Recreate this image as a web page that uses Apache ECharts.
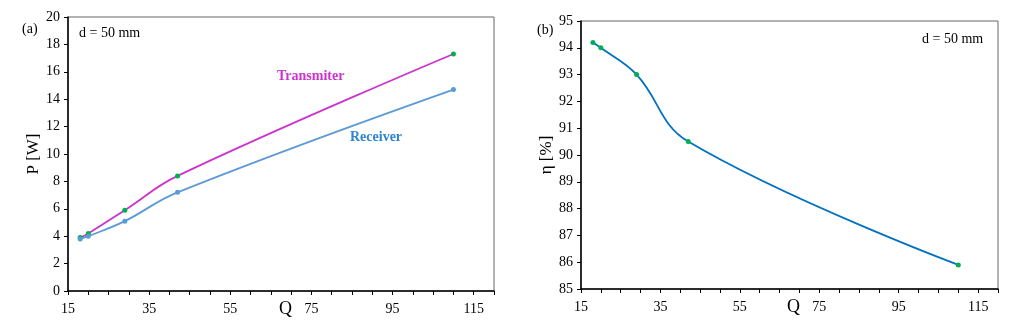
<!DOCTYPE html>
<html><head><meta charset="utf-8">
<script src="https://cdn.jsdelivr.net/npm/echarts@6/dist/echarts.min.js"></script>
<style>html,body{margin:0;padding:0;background:#fff}#c{width:1015px;height:331px}</style>
</head><body><div id="c"></div>
<script>
const qValues = [18, 20, 29, 42, 110];
const transmitter = [3.9, 4.2, 5.9, 8.4, 17.3];
const receiver = [3.8, 4.0, 5.1, 7.2, 14.7];
const efficiency = [94.2, 94.0, 93.0, 90.5, 85.9];
const xLabelTicks = [15, 35, 55, 75, 95, 115];

const FONT = '"Liberation Serif", "Times New Roman", serif';
const chart = echarts.init(document.getElementById('c'));
const pairs = (ys) => qValues.map((q, i) => [q, ys[i]]);

function xAxis(gi) {
  return {
    type: 'value', gridIndex: gi, min: 15, max: 120, interval: 5,
    axisLine: {lineStyle: {color: '#000', width: 1.5}},
    axisTick: {show: true, length: 4, lineStyle: {color: '#000'}},
    axisLabel: {fontFamily: FONT, fontSize: 14, color: '#000', margin: 11,
      formatter: v => xLabelTicks.includes(v) ? String(v) : ''},
    splitLine: {show: false}
  };
}
function yAxis(gi, min, max, interval, name, gap) {
  return {
    type: 'value', gridIndex: gi, min, max, interval,
    name, nameLocation: 'middle', nameGap: gap,
    nameTextStyle: {fontFamily: FONT, fontSize: 17, color: '#000'},
    axisLine: {show: true, lineStyle: {color: '#000', width: 1.5}},
    axisTick: {show: true, length: 4, lineStyle: {color: '#000'}},
    axisLabel: {fontFamily: FONT, fontSize: 14, color: '#000', margin: 8},
    splitLine: {show: false}
  };
}

chart.setOption({
  animation: false,
  grid: [
    {left: 68, top: 17, width: 426, height: 274, show: true, borderColor: '#666', borderWidth: 1},
    {left: 581, top: 21, width: 417, height: 268, show: true, borderColor: '#666', borderWidth: 1}
  ],
  xAxis: [xAxis(0), xAxis(1)],
  yAxis: [yAxis(0, 0, 20, 2, 'P [W]', 26), yAxis(1, 85, 95, 1, 'η [%]', 25)],
  series: [
    {type: 'line', xAxisIndex: 0, yAxisIndex: 0, data: pairs(transmitter), smooth: 0.4,
      symbol: 'circle', symbolSize: 5, lineStyle: {color: '#CC33CC', width: 1.8},
      itemStyle: {color: '#00B050'}},
    {type: 'line', xAxisIndex: 0, yAxisIndex: 0, data: pairs(receiver), smooth: 0.4,
      symbol: 'circle', symbolSize: 5, lineStyle: {color: '#5B9BD5', width: 1.8},
      itemStyle: {color: '#5B9BD5'}},
    {type: 'line', xAxisIndex: 1, yAxisIndex: 1, data: pairs(efficiency), smooth: 0.4,
      symbol: 'circle', symbolSize: 5, lineStyle: {color: '#0070C0', width: 1.8},
      itemStyle: {color: '#00B050'}}
  ],
  graphic: [
    {type: 'text', left: 22, top: 22, style: {text: '(a)', font: '14px ' + FONT, fill: '#000'}},
    {type: 'text', left: 79, top: 26, style: {text: 'd = 50 mm', font: '14px ' + FONT, fill: '#000'}},
    {type: 'text', left: 277, top: 69, style: {text: 'Transmiter', font: 'bold 14px ' + FONT, fill: '#CC33CC'}},
    {type: 'text', left: 350, top: 130, style: {text: 'Receiver', font: 'bold 14px ' + FONT, fill: '#2E86D0'}},
    {type: 'text', left: 279, top: 300, style: {text: 'Q', font: '18px ' + FONT, fill: '#000'}},
    {type: 'text', left: 537, top: 23, style: {text: '(b)', font: '14px ' + FONT, fill: '#000'}},
    {type: 'text', left: 922, top: 32, style: {text: 'd = 50 mm', font: '14px ' + FONT, fill: '#000'}},
    {type: 'text', left: 787, top: 298, style: {text: 'Q', font: '18px ' + FONT, fill: '#000'}}
  ]
});
</script></body></html>
